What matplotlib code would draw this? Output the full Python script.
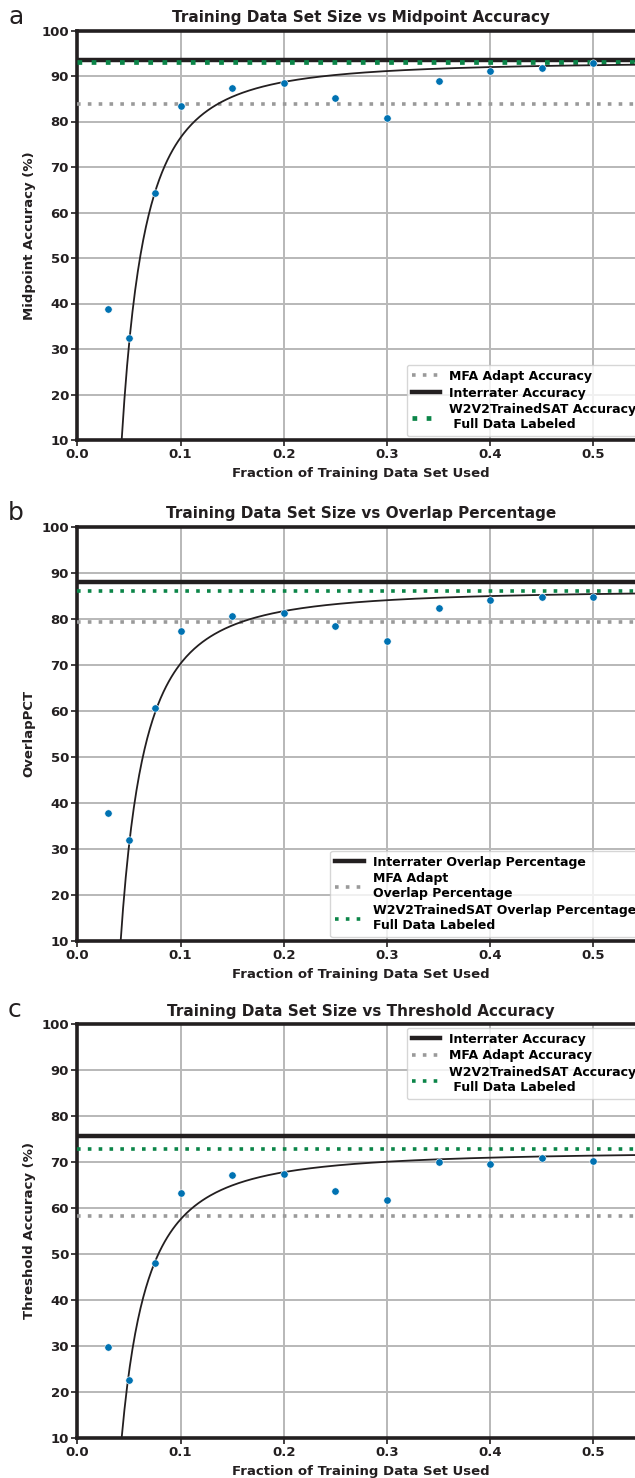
import matplotlib
matplotlib.use("Agg")
import matplotlib.pyplot as plt
import numpy as np

plt.rcParams['font.family'] = ['DejaVu Sans']
plt.rcParams['font.weight'] = 'bold'

fractions = [0.03, 0.05, 0.075, 0.1, 0.15, 0.2, 0.25, 0.3, 0.35, 0.4, 0.45, 0.5]

midpoint_acc = [38.8, 32.5, 64.2, 83.3, 87.4, 88.4, 85.2, 80.8, 88.8, 91.2, 91.8, 92.8]
overlap_pct = [37.9, 31.9, 60.7, 77.3, 80.7, 81.3, 78.4, 75.1, 82.3, 84.1, 84.7, 84.8]
threshold_acc = [29.8, 22.5, 47.9, 63.3, 67.2, 67.4, 63.7, 61.7, 70.0, 69.6, 70.9, 70.3]

# reference lines: interrater, MFA adapt, W2V2 full data
interrater = [93.6, 88.05, 75.6]
mfa_adapt = [83.8, 79.3, 58.3]
w2v2_full = [93.1, 86.0, 72.7]

# fitted curve y = a - b * x^-p
fit_a = [93.16, 86.25, 72.33]
fit_b = [0.2106, 0.2536, 0.2962]
fit_p = [1.9, 1.8, 1.7]

titles = ["Training Data Set Size vs Midpoint Accuracy",
          "Training Data Set Size vs Overlap Percentage",
          "Training Data Set Size vs Threshold Accuracy"]
ylabels = ["Midpoint Accuracy (%)", "OverlapPCT", "Threshold Accuracy (%)"]
letters = ["a", "b", "c"]
series = [midpoint_acc, overlap_pct, threshold_acc]

blue = '#0072B2'
green = '#0b8548'
grey = '#9a9a9a'
dark = '#231f20'

W, H = 635, 1478
fig = plt.figure(figsize=(W / 100, H / 100), dpi=100)

# axes boxes in pixels: (top, bottom)
boxes = [(30.5, 440), (526.7, 941), (1024, 1437.7)]
left_px = 77.3
right_px = 77.3 + 0.55 * 1032

for i in range(3):
    top, bot = boxes[i]
    ax = fig.add_axes([left_px / W, 1 - bot / H, (right_px - left_px) / W, (bot - top) / H])
    ax.set_xlim(0, 0.55)
    ax.set_ylim(10, 100)
    ax.set_xticks([0.0, 0.1, 0.2, 0.3, 0.4, 0.5])
    ax.set_yticks(range(10, 101, 10))
    ax.grid(True, color='#b8b8b8', lw=1.4)
    ax.set_axisbelow(True)
    for s in ax.spines.values():
        s.set_linewidth(2.6)
        s.set_color(dark)
    ax.tick_params(width=1.2, length=4, labelsize=9.5, colors=dark, pad=2)

    h_int, = ax.plot([0, 0.55], [interrater[i]] * 2, color=dark, lw=3.2,
                     label="Interrater Accuracy", zorder=3)
    h_mfa, = ax.plot([0, 0.55], [mfa_adapt[i]] * 2, color=grey, lw=2.6, ls=(0, (1, 2)),
                     label="MFA Adapt Accuracy", zorder=3)
    if i == 0:
        h_w2v, = ax.plot([0, 0.55], [w2v2_full[i]] * 2, color=green, lw=3.4, ls=(0, (1, 2)),
                         zorder=4)
    else:
        h_w2v, = ax.plot([0, 0.55], [w2v2_full[i]] * 2, color=green, lw=2.6, ls=(0, (1, 2)),
                         zorder=4)

    xs = np.linspace(0.03, 0.55, 400)
    ax.plot(xs, fit_a[i] - fit_b[i] * xs ** (-fit_p[i]), color=dark, lw=1.3, zorder=5)
    ax.scatter(fractions, series[i], s=28, color=blue, zorder=6, edgecolors='white', linewidths=0.4)

    ax.set_title(titles[i], fontsize=11, fontweight='bold', color=dark, pad=6)
    ax.set_xlabel("Fraction of Training Data Set Used", fontsize=9.5, fontweight='bold',
                  color=dark, labelpad=4)
    ax.set_ylabel(ylabels[i], fontsize=9.5, fontweight='bold', color=dark, labelpad=4)
    fig.text(8 / W, 1 - 16 / H - top / H + 30 / H, letters[i], fontsize=18,
             fontweight='normal', color=dark, va='center')

    leg_kw = dict(fontsize=9, framealpha=0.8, edgecolor='#cccccc', handlelength=2.3,
                  borderpad=0.4, labelspacing=0.3, handletextpad=0.7, borderaxespad=0.3)
    if i == 0:
        ax.legend([h_mfa, h_int, h_w2v],
                  ["MFA Adapt Accuracy", "Interrater Accuracy",
                   "W2V2TrainedSAT Accuracy\n Full Data Labeled"],
                  loc='lower right', **leg_kw)
    elif i == 1:
        ax.legend([h_int, h_mfa, h_w2v],
                  ["Interrater Overlap Percentage", "MFA Adapt\nOverlap Percentage",
                   "W2V2TrainedSAT Overlap Percentage\nFull Data Labeled"],
                  loc='lower right', **leg_kw)
    else:
        ax.legend([h_int, h_mfa, h_w2v],
                  ["Interrater Accuracy", "MFA Adapt Accuracy",
                   "W2V2TrainedSAT Accuracy\n Full Data Labeled"],
                  loc='upper right', **leg_kw)

fig.savefig("out.png", dpi=100)
